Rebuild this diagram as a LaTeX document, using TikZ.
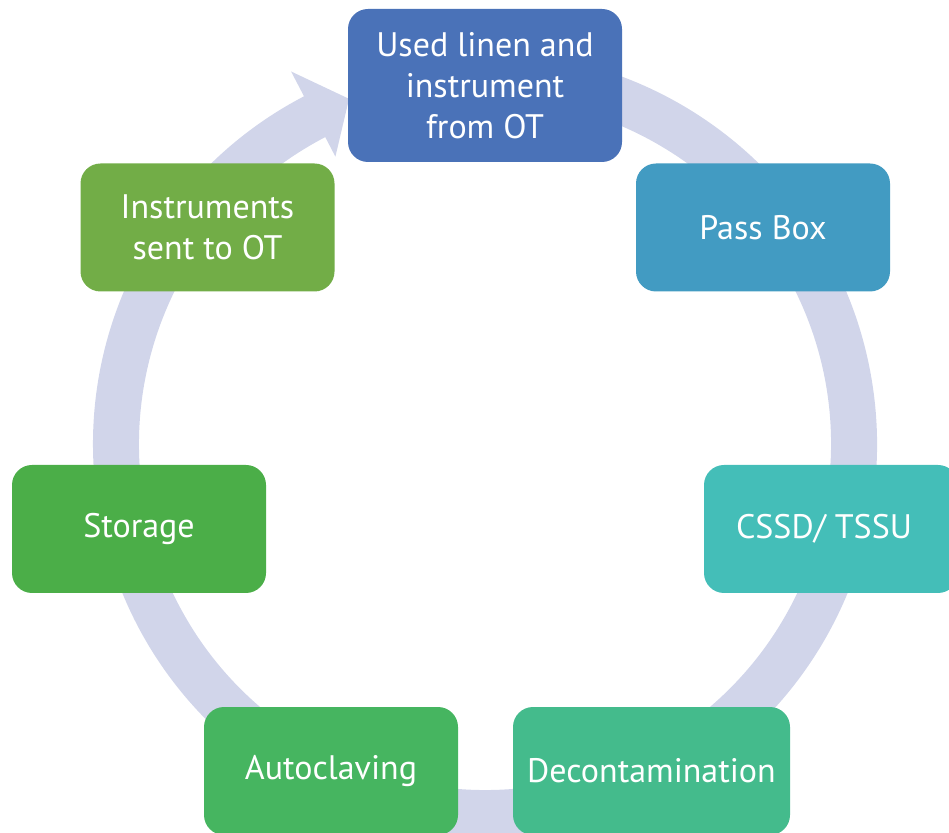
\documentclass[tikz,border=0pt]{standalone}
\usepackage{fontspec}
\setmainfont{PT Sans}
\definecolor{ringc}{HTML}{D1D5EA}
\definecolor{c1}{HTML}{4A72B8}
\definecolor{c2}{HTML}{429BC2}
\definecolor{c3}{HTML}{44BEB8}
\definecolor{c4}{HTML}{44BB8C}
\definecolor{c5}{HTML}{46B560}
\definecolor{c6}{HTML}{4BAE48}
\definecolor{c7}{HTML}{72AD47}
\tikzset{
  stepbox/.style={rounded corners=20pt, text=white, align=center,
    inner sep=0pt, minimum width=254pt, minimum height=128pt,
    font=\fontsize{34}{41}\selectfont},
}
\begin{document}
\begin{tikzpicture}[x=1pt,y=1pt]
\useasboundingbox (0,0) rectangle (949,832);
\clip (0,0) rectangle (949,832);
\begin{scope}[shift={(485,388)}]
\fill[ringc] (100:392) arc[start angle=100, end angle=-242.5, radius=392]
  -- (117.5:420) -- (111.5:371) -- (117.5:324) -- (117.5:346)
  arc[start angle=-242.5, end angle=100, radius=346] -- cycle;
\end{scope}
\node[stepbox, fill=c1, minimum width=274pt, minimum height=153pt] (used) at (485,746.5) {Used linen and\\instrument\\from OT};
\node[stepbox, fill=c2] (pass) at (763,604.5) {Pass Box};
\node[stepbox, fill=c3] (cssd) at (831,303) {CSSD/ TSSU\hspace*{14pt}};
\node[stepbox, fill=c4, minimum width=277pt] (decon) at (651.5,61) {Decontamination};
\node[stepbox, fill=c5] (auto) at (331,61) {Autoclaving};
\node[stepbox, fill=c6] (stor) at (139,303) {Storage};
\node[stepbox, fill=c7] (inst) at (207.5,604.5) {Instruments\\sent to OT};
\end{tikzpicture}
\end{document}
